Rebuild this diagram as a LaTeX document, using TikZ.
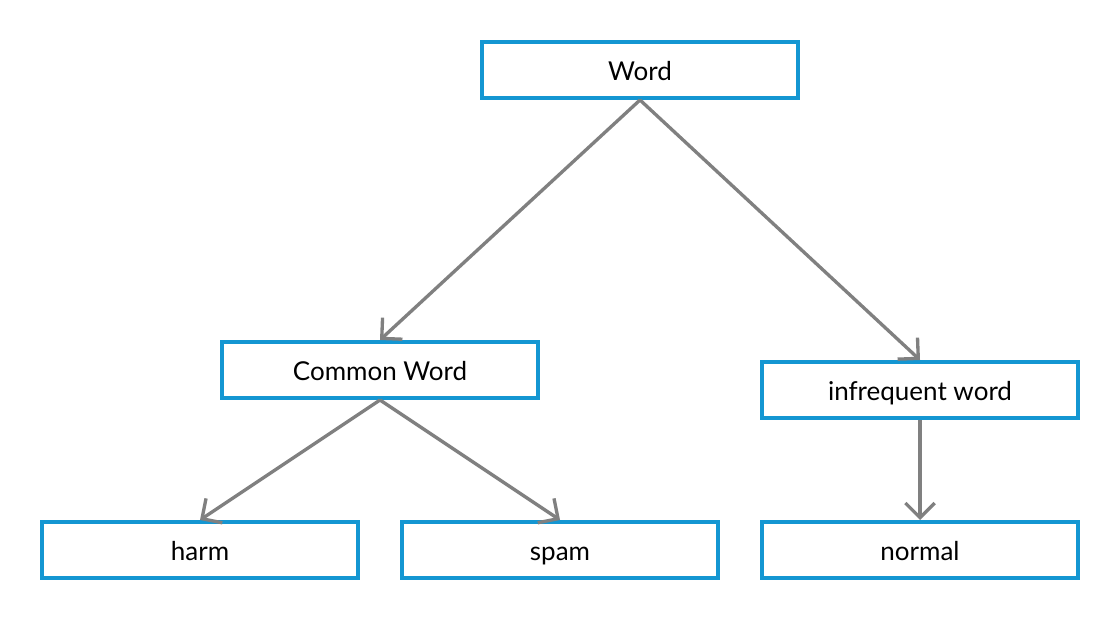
\documentclass[tikz,border=0pt]{standalone}
\usepackage{fontspec}
\setmainfont{Lato}
\usetikzlibrary{arrows.meta,positioning}

\definecolor{boxblue}{RGB}{20,150,210}
\definecolor{linkgray}{RGB}{128,128,128}

\tikzset{
    wordbox/.style={draw=boxblue, line width=3pt, fill=white,
        minimum width=237pt, minimum height=42pt, inner sep=0pt,
        text height=18pt, text depth=2pt,
        font=\fontsize{19.5}{23}\selectfont},
    link/.style={draw=linkgray, line width=2.5pt,
        -{Straight Barb[length=11pt, width=22pt, line width=2.5pt]}}
}

\begin{document}
\begin{tikzpicture}[x=0.75pt, y=-0.75pt]

% Canvas
\useasboundingbox (0,0) rectangle (1120,620);

% Top level
\node[wordbox] (word) at (640,70) {Word};

% Second level
\node[wordbox] (common) at (380,370) {Common Word};
\node[wordbox] (rare) at (920,390) {infrequent word};

% Leaves
\node[wordbox] (harm) at (200,550) {harm};
\node[wordbox] (spam) at (560,550) {spam};
\node[wordbox] (normal) at (920,550) {normal};

% Links
\draw[link] (word.south) -- (common.north);
\draw[link] (word.south) -- (rare.north);
\draw[link] (common.south) -- (harm.north);
\draw[link] (common.south) -- (spam.north);
\draw[link] (rare.south) -- (normal.north);

\end{tikzpicture}
\end{document}
